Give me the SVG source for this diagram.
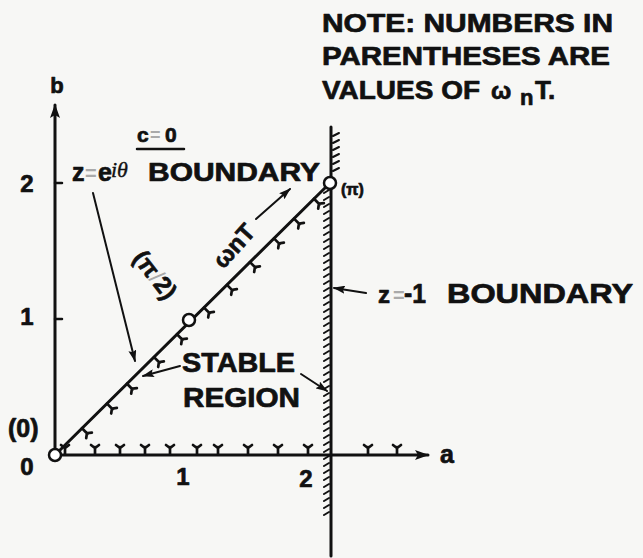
<svg xmlns="http://www.w3.org/2000/svg" width="643" height="558" viewBox="0 0 643 558">
<style>
text{font-family:"Liberation Sans",Arial,sans-serif;font-weight:bold;fill:#111;stroke:#111;stroke-width:0.7;stroke-linejoin:round}
.ln{stroke:#111;fill:none;stroke-linecap:round}
.gray{fill:#aaa;stroke:none}
.serif{font-family:"Liberation Serif","Times New Roman",serif;font-weight:normal;font-style:italic;stroke-width:0.4}
</style>
<defs>
<marker id="big" viewBox="0 0 14 10" refX="13" refY="5" markerWidth="14" markerHeight="10" markerUnits="userSpaceOnUse" orient="auto"><path d="M0,0 L14,5 L0,10 L3,5 z" fill="#111"/></marker>
<marker id="sm" viewBox="0 0 12 8" refX="11" refY="4" markerWidth="12" markerHeight="8" markerUnits="userSpaceOnUse" orient="auto"><path d="M0,0 L12,4 L0,8 L2,4 z" fill="#111"/></marker>
<path id="dm" d="M0,0 V8 M-4,10 L0,7 L4,10" stroke="#111" stroke-width="2.7" fill="none" stroke-linecap="round"/>
<path id="xm" d="M0,0 V-7 M-4,-9 L0,-6 L4,-9" stroke="#111" stroke-width="2.7" fill="none" stroke-linecap="round"/>
</defs>
<rect width="643" height="558" fill="#f7f7f5"/>

<g id="axes">
<line class="ln" x1="55" y1="455" x2="55" y2="105" stroke-width="3" marker-end="url(#big)"/>
<line class="ln" x1="55" y1="455" x2="428" y2="455" stroke-width="3" marker-end="url(#big)"/>
<line class="ln" x1="55" y1="183" x2="62" y2="183" stroke-width="2.5"/>
<line class="ln" x1="55" y1="319" x2="62" y2="319" stroke-width="2.5"/>
<text x="57" y="93" font-size="22" text-anchor="middle">b</text>
<text x="27" y="192" font-size="24" text-anchor="middle">2</text>
<text x="27" y="325" font-size="24" text-anchor="middle">1</text>
<text x="27" y="475" font-size="24" text-anchor="middle">0</text>
<text x="183" y="485" font-size="24" text-anchor="middle">1</text>
<text x="306" y="487" font-size="24" text-anchor="middle">2</text>
<text x="447" y="463" font-size="25" text-anchor="middle">a</text>
<g id="axis-hatch">
<use href="#xm" x="65" y="454"/><use href="#xm" x="95" y="454"/><use href="#xm" x="120" y="454"/><use href="#xm" x="145" y="454"/>
<use href="#xm" x="170" y="454"/><use href="#xm" x="197" y="454"/><use href="#xm" x="218" y="454"/><use href="#xm" x="248" y="454"/>
<use href="#xm" x="278" y="454"/><use href="#xm" x="308" y="454"/><use href="#xm" x="368" y="454"/><use href="#xm" x="397" y="454"/>
</g>
</g>

<g id="z-minus-1-boundary">
<line class="ln" x1="331" y1="127" x2="331" y2="556" stroke-width="3"/>
<path class="ln" stroke-width="2" d="M329,190l-5,3m5,4l-5,3m5,4l-5,3m5,4l-5,3m5,4l-5,3m5,4l-5,3m5,4l-5,3m5,4l-5,3m5,4l-5,3m5,4l-5,3m5,4l-5,3m5,4l-5,3m5,4l-5,3m5,4l-5,3m5,4l-5,3m5,4l-5,3m5,4l-5,3m5,4l-5,3m5,4l-5,3m5,4l-5,3m5,4l-5,3m5,4l-5,3m5,4l-5,3m5,4l-5,3m5,4l-5,3m5,4l-5,3m5,4l-5,3m5,4l-5,3m5,4l-5,3m5,4l-5,3m5,4l-5,3m5,4l-5,3m5,4l-5,3m5,4l-5,3m5,4l-5,3m5,4l-5,3m5,4l-5,3m5,4l-5,3m5,4l-5,3m5,4l-5,3m5,4l-5,3m5,4l-5,3m5,4l-5,3m5,4l-5,3m5,4l-5,3m5,4l-5,3m5,4l-5,3m5,4"/>
<path class="ln" stroke-width="2" d="M333,171l6,-3m-6,-4l6,-3m-6,-4l6,-3m-6,-4l6,-3m-6,-4l6,-3m-6,-4l6,-3"/>
<text x="378" y="303" font-size="24">z</text>
<text x="393" y="302" font-size="20" class="gray">=</text>
<text x="404" y="303" font-size="27" textLength="22" lengthAdjust="spacingAndGlyphs">-1</text>
<text x="447" y="303" font-size="27" textLength="186" lengthAdjust="spacingAndGlyphs">BOUNDARY</text>
</g>

<g id="c0-boundary">
<line class="ln" x1="55" y1="455" x2="330" y2="183" stroke-width="3"/>
<g id="diag-hatch">
<use href="#dm" transform="translate(82,428.3) rotate(-44.7)"/>
<use href="#dm" transform="translate(107,403.6) rotate(-44.7)"/>
<use href="#dm" transform="translate(127,383.8) rotate(-44.7)"/>
<use href="#dm" transform="translate(154,357.1) rotate(-44.7)"/>
<use href="#dm" transform="translate(177,334.3) rotate(-44.7)"/>
<use href="#dm" transform="translate(204,307.6) rotate(-44.7)"/>
<use href="#dm" transform="translate(227,284.9) rotate(-44.7)"/>
<use href="#dm" transform="translate(250,262.1) rotate(-44.7)"/>
<use href="#dm" transform="translate(274,238.4) rotate(-44.7)"/>
<use href="#dm" transform="translate(294,218.6) rotate(-44.7)"/>
<use href="#dm" transform="translate(314,198.8) rotate(-44.7)"/>
</g>
<text x="137" y="142" font-size="21">c</text>
<text x="150" y="141" font-size="18" class="gray">=</text>
<text x="165" y="142" font-size="21">0</text>
<line class="ln" x1="137" y1="149" x2="184" y2="149" stroke-width="2.5"/>
<text x="72" y="181" font-size="25">z</text>
<text x="85" y="180" font-size="20" class="gray">=</text>
<text x="98" y="181" font-size="25">e</text>
<text x="111" y="177" font-size="22" class="serif">iθ</text>
<text x="148" y="181" font-size="25" textLength="172" lengthAdjust="spacingAndGlyphs">BOUNDARY</text>
</g>

<g id="points">
<circle cx="55" cy="455" r="6" fill="#fff" stroke="#111" stroke-width="2.5"/>
<circle cx="189" cy="320" r="6" fill="#fff" stroke="#111" stroke-width="2.5"/>
<circle cx="330" cy="183" r="6" fill="#fff" stroke="#111" stroke-width="2.5"/>
<text x="8" y="437" font-size="25">(0)</text>
<text x="341" y="195" font-size="16">(π)</text>
<text x="155" y="283" font-size="24" text-anchor="middle" transform="rotate(52 155 275)">(π<tspan class="gray" font-weight="normal">/</tspan>2)</text>
<text x="234" y="254" font-size="24" text-anchor="middle" transform="rotate(-48 234 246)">ωnT</text>
</g>

<g id="stable-region">
<text x="182" y="372" font-size="27" textLength="113" lengthAdjust="spacingAndGlyphs">STABLE</text>
<text x="183" y="407" font-size="27" textLength="117" lengthAdjust="spacingAndGlyphs">REGION</text>
</g>

<g id="note">
<text x="322" y="32" font-size="26" textLength="291" lengthAdjust="spacingAndGlyphs">NOTE: NUMBERS IN</text>
<text x="322" y="65" font-size="26" textLength="288" lengthAdjust="spacingAndGlyphs">PARENTHESES ARE</text>
<text x="322" y="99" font-size="26" textLength="158" lengthAdjust="spacingAndGlyphs">VALUES OF</text>
<text x="491" y="99" font-size="24">ω</text>
<text x="520" y="105" font-size="22">n</text>
<text x="535" y="99" font-size="26">T.</text>
</g>

<g id="connectors">
<line class="ln" x1="93" y1="193" x2="135" y2="361" stroke-width="2" marker-end="url(#sm)"/>
<line class="ln" x1="256" y1="219" x2="290" y2="189" stroke-width="2" marker-end="url(#sm)"/>
<line class="ln" x1="180" y1="366" x2="143" y2="376" stroke-width="2" marker-end="url(#sm)"/>
<line class="ln" x1="301" y1="374" x2="327" y2="391" stroke-width="2" marker-end="url(#sm)"/>
<line class="ln" x1="366" y1="293" x2="334" y2="288" stroke-width="2" marker-end="url(#sm)"/>
</g>
</svg>
